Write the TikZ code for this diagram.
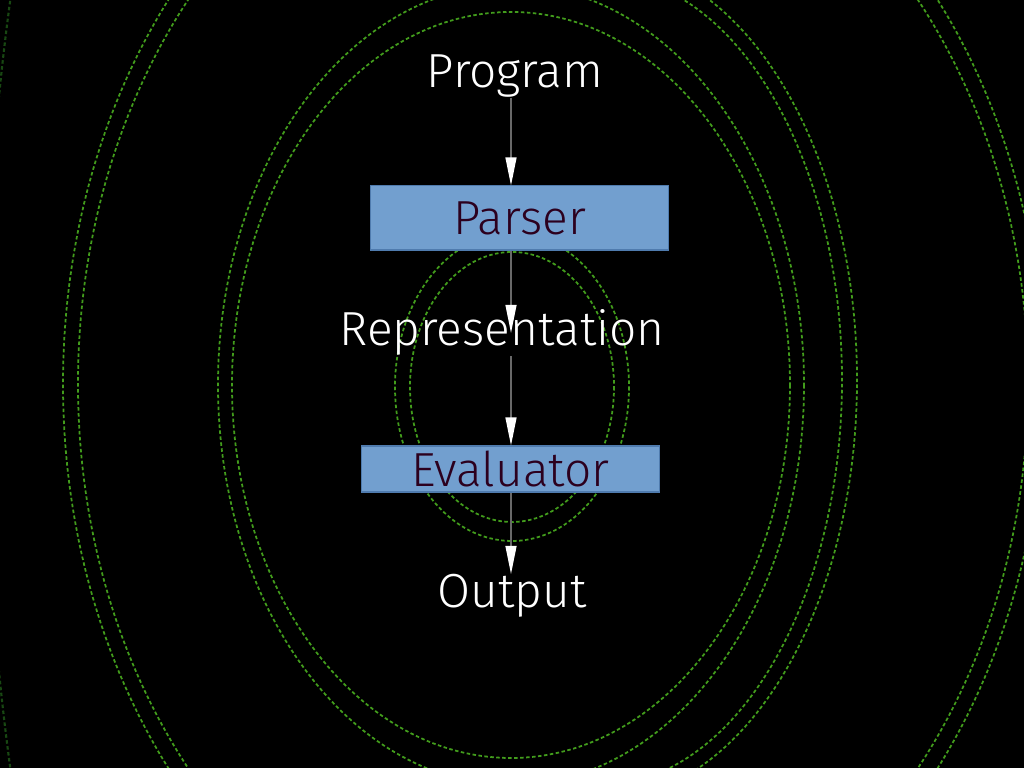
\documentclass[tikz,border=0pt]{standalone}
\usepackage{fontspec}
\setmainfont{Fira Sans}[UprightFont=* Light]
\usepackage{xcolor}
\usetikzlibrary{arrows.meta}

\definecolor{boxblue}{HTML}{729FCF}
\definecolor{boxedge}{HTML}{4F7BAE}
\definecolor{aubergine}{HTML}{2C001E}
\definecolor{ringgreen}{RGB}{66,156,28}
\definecolor{ringdark}{RGB}{24,72,18}
\definecolor{wire}{RGB}{105,105,105}

\begin{document}
\begin{tikzpicture}[
  x=0.01cm, y=-0.01cm,
  lbl/.style={text=white, inner sep=0pt, font=\fontsize{13.6}{16}\selectfont},
  stage/.style={fill=boxblue, draw=boxedge, line width=0.3pt, text=aubergine,
                minimum width=2.97cm, inner sep=0pt,
                font=\fontsize{13.6}{16}\selectfont},
  arr/.style={draw=wire, line width=0.35pt,
              -{Triangle[length=0.28cm, width=0.11cm, color=white, fill=white]}},
  ring/.style={draw=ringgreen, line width=0.5pt, dash pattern=on 1pt off 0.7pt},
  farring/.style={draw=ringdark, line width=0.6pt, dash pattern=on 1pt off 0.7pt},
]

% ---- background ----
\fill[black] (0,0) rectangle (1024,768);
\begin{scope}
  \clip (0,0) rectangle (1024,768);
  % inner pair
  \draw[ring] (512,387) ellipse [x radius=102, y radius=135];
  \draw[ring] (512,387) ellipse [x radius=117, y radius=154];
  % middle pair
  \draw[ring] (511,385) ellipse [x radius=279, y radius=373];
  \draw[ring] (511,385) ellipse [x radius=293, y radius=400];
  % right-hand arcs
  \draw[ring] (600,-25) arc [start angle=-90, end angle=90, x radius=242, y radius=405];
  \draw[ring] (600,-40) arc [start angle=-90, end angle=90, x radius=257, y radius=420];
  % outer pair
  \draw[ring] (553,384) ellipse [x radius=475, y radius=600];
  \draw[ring] (553,384) ellipse [x radius=490, y radius=620];
  % far ring
  \draw[farring] (555,384) ellipse [x radius=570, y radius=1300];
\end{scope}

% ---- stages ----
\node[lbl, anchor=base] (program) at (515,88) {Program};
\node[stage, minimum height=0.64cm] (parser) at (519.5,218) {Parser};
\node[lbl, anchor=base] (repr) at (502,346) {Representation};
\node[stage, minimum height=0.46cm] (evaluator) at (510.5,469) {Evaluator};
\node[lbl, anchor=base] (output) at (512,608) {Output};

\coordinate (spine) at (511,0);

% ---- arrows ----
\draw[arr] (program.south -| spine) -- (parser.north -| spine);
\draw[arr] (parser.south -| spine)  -- (repr.center -| spine);
\draw[arr] (repr.south -| spine)    -- (evaluator.north -| spine);
\draw[arr] (evaluator.south -| spine) -- (output.north -| spine);

\end{tikzpicture}
\end{document}
